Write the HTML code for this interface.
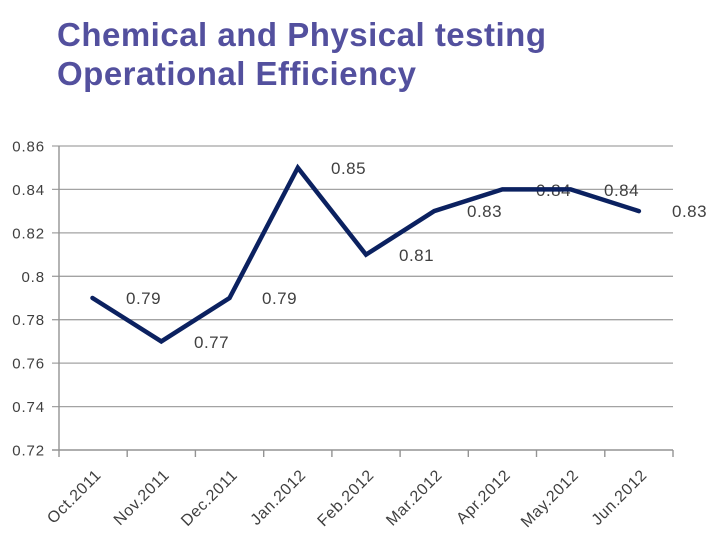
<!DOCTYPE html>
<html>
<head>
<meta charset="utf-8">
<style>
html,body{margin:0;padding:0;background:#fff;}
svg{display:block;}
</style>
</head>
<body>
<svg width="720" height="550" viewBox="0 0 720 550" xmlns="http://www.w3.org/2000/svg">
<rect width="720" height="550" fill="#ffffff"/>
<!-- Title -->
<g font-family="Liberation Sans, sans-serif" font-weight="bold" font-size="33" fill="#53509e" letter-spacing="0.5">
<text x="57" y="46">Chemical and Physical testing</text>
<text x="57" y="85">Operational Efficiency</text>
</g>
<!-- Gridlines -->
<g stroke="#a3a3a3" stroke-width="1.3" fill="none">
<line x1="52" y1="146" x2="673" y2="146"/>
<line x1="52" y1="189.4" x2="673" y2="189.4"/>
<line x1="52" y1="232.9" x2="673" y2="232.9"/>
<line x1="52" y1="276.3" x2="673" y2="276.3"/>
<line x1="52" y1="319.7" x2="673" y2="319.7"/>
<line x1="52" y1="363.1" x2="673" y2="363.1"/>
<line x1="52" y1="406.6" x2="673" y2="406.6"/>
</g>
<!-- Axes -->
<g stroke="#939393" stroke-width="1.4" fill="none">
<line x1="59" y1="146" x2="59" y2="450"/>
<line x1="52" y1="450" x2="673" y2="450"/>
<line x1="59" y1="450" x2="59" y2="457"/>
<line x1="127.2" y1="450" x2="127.2" y2="457"/>
<line x1="195.4" y1="450" x2="195.4" y2="457"/>
<line x1="263.7" y1="450" x2="263.7" y2="457"/>
<line x1="331.9" y1="450" x2="331.9" y2="457"/>
<line x1="400.1" y1="450" x2="400.1" y2="457"/>
<line x1="468.3" y1="450" x2="468.3" y2="457"/>
<line x1="536.5" y1="450" x2="536.5" y2="457"/>
<line x1="604.8" y1="450" x2="604.8" y2="457"/>
<line x1="673" y1="450" x2="673" y2="457"/>
</g>
<!-- Y labels -->
<g font-family="Liberation Sans, sans-serif" font-size="15" fill="#3f3f3f" text-anchor="end" letter-spacing="0.9">
<text x="45" y="151.5">0.86</text>
<text x="45" y="194.9">0.84</text>
<text x="45" y="238.4">0.82</text>
<text x="45" y="281.8">0.8</text>
<text x="45" y="325.2">0.78</text>
<text x="45" y="368.6">0.76</text>
<text x="45" y="412.1">0.74</text>
<text x="45" y="455.5">0.72</text>
</g>
<!-- X labels -->
<g font-family="Liberation Sans, sans-serif" font-size="16" fill="#3f3f3f" text-anchor="end" letter-spacing="0.6">
<text transform="translate(102,476) rotate(-45)">Oct.2011</text>
<text transform="translate(170.2,476) rotate(-45)">Nov.2011</text>
<text transform="translate(238.4,476) rotate(-45)">Dec.2011</text>
<text transform="translate(306.7,476) rotate(-45)">Jan.2012</text>
<text transform="translate(374.9,476) rotate(-45)">Feb.2012</text>
<text transform="translate(443.1,476) rotate(-45)">Mar.2012</text>
<text transform="translate(511.3,476) rotate(-45)">Apr.2012</text>
<text transform="translate(579.5,476) rotate(-45)">May.2012</text>
<text transform="translate(647.8,476) rotate(-45)">Jun.2012</text>
</g>
<!-- Data labels -->
<g font-family="Liberation Sans, sans-serif" font-size="17" fill="#404040" letter-spacing="0.5">
<text x="126" y="304">0.79</text>
<text x="194" y="348">0.77</text>
<text x="262" y="304">0.79</text>
<text x="331" y="174">0.85</text>
<text x="399" y="261">0.81</text>
<text x="467" y="217">0.83</text>
<text x="536" y="196">0.84</text>
<text x="604" y="196">0.84</text>
<text x="672" y="217">0.83</text>
</g>
<!-- Series -->
<polyline fill="none" stroke="#0b2160" stroke-width="4.5" stroke-linejoin="miter" stroke-linecap="round"
points="92.5,298 161.3,341.4 229.5,298 297.8,167.7 366,254.6 434.2,211.1 502.4,189.4 570.6,189.4 638.9,211.1"/>
</svg>
</body>
</html>
